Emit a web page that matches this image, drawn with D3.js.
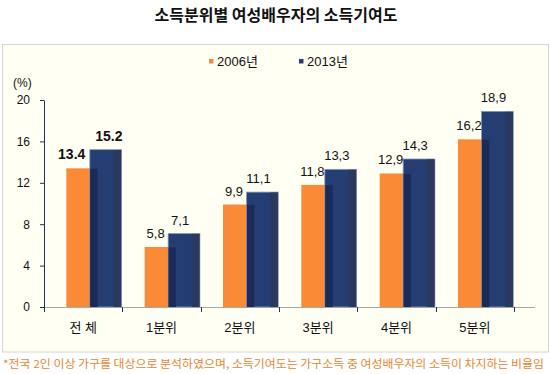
<!DOCTYPE html>
<html>
<head>
<meta charset="utf-8">
<script src="https://cdn.jsdelivr.net/npm/d3@7"></script>
<style>
  body { margin: 0; background: #ffffff; }
  svg { display: block; font-family: "Liberation Sans", "Noto Sans CJK KR", sans-serif; }
</style>
</head>
<body>
<svg id="chart" width="550" height="374"></svg>
<script>
// chart data
const categories = ['전 체', '1분위', '2분위', '3분위', '4분위', '5분위'];
const seriesNames = ['2006년', '2013년'];
const values2006 = [13.4, 5.8, 9.9, 11.8, 12.9, 16.2];
const values2013 = [15.2, 7.1, 11.1, 13.3, 14.3, 18.9];
const labels2006 = ['13.4', '5,8', '9,9', '11,8', '12,9', '16,2'];
const labels2013 = ['15.2', '7,1', '11,1', '13,3', '14,3', '18,9'];
const yTicks = [0, 4, 8, 12, 16, 20];

const titleText = '소득분위별 여성배우자의 소득기여도';
const noteText = '*전국 2인 이상 가구를 대상으로 분석하였으며, 소득기여도는 가구소득 중 여성배우자의 소득이 차지하는 비율임';

const colors = {
    orange: '#fb8a36',
    navy: '#243e74',
    navyOverlap: '#1b2b59',
    navyShade: '#2a395d',
    axis: '#1f3360',
    panel: '#fffff4'
};

const svg = d3.select('#chart');

// panel
svg.append('rect')
    .attr('x', 2.5).attr('y', 44.5)
    .attr('width', 546).attr('height', 307.5)
    .attr('fill', colors.panel)
    .attr('stroke', '#d4d4d4');

// title
svg.append('text')
    .attr('x', 276).attr('y', 21)
    .attr('text-anchor', 'middle')
    .attr('font-family', '"Noto Sans CJK KR", sans-serif')
    .attr('font-size', 16).attr('font-weight', 'bold')
    .attr('fill', '#111')
    .text(titleText);

const x = d3.scaleBand().domain(categories).range([44, 514]);
const y = d3.scaleLinear().domain([0, 20]).range([307, 100]);
const bw = x.bandwidth();

// y axis
const yAxis = svg.append('g')
    .attr('transform', 'translate(44,0)')
    .call(d3.axisLeft(y).tickValues(yTicks).tickSize(4).tickPadding(10).tickSizeOuter(0));
yAxis.attr('font-family', null);
yAxis.select('.domain').attr('stroke', colors.axis);
yAxis.selectAll('.tick line').attr('stroke', colors.axis);
yAxis.selectAll('text').attr('font-size', 12).attr('fill', '#111');

svg.append('text')
    .attr('x', 13).attr('y', 87)
    .attr('font-size', 12).attr('fill', '#111')
    .text('(%)');

// x axis line + tick marks at band edges
svg.append('line')
    .attr('x1', 44).attr('x2', 535)
    .attr('y1', y(0) + 0.5).attr('y2', y(0) + 0.5)
    .attr('stroke', '#a8a8a8');
const edges = categories.map((c) => x(c)).concat([x(categories[categories.length - 1]) + bw]);
svg.selectAll('.xtick')
    .data(edges)
    .enter()
    .append('line')
    .attr('x1', (d) => Math.round(d) + 0.5).attr('x2', (d) => Math.round(d) + 0.5)
    .attr('y1', y(0)).attr('y2', y(0) + 5)
    .attr('stroke', colors.axis);

svg.selectAll('.xlabel')
    .data(categories)
    .enter()
    .append('text')
    .attr('x', (d) => x(d) + bw / 2)
    .attr('y', 332)
    .attr('text-anchor', 'middle')
    .attr('font-size', 13).attr('fill', '#111')
    .style('white-space', 'pre')
    .text((d) => d);

// bars
const oOff = 0.285 * bw, oW = 0.395 * bw;
const bOff = 0.585 * bw, bW = 0.405 * bw;
const shadeW = 8;

const bars = svg.append('g');
categories.forEach((c, i) => {
    const x0 = x(c);
    bars.append('rect')
        .attr('x', x0 + oOff).attr('y', y(values2006[i]))
        .attr('width', oW).attr('height', y(0) - y(values2006[i]))
        .attr('fill', colors.orange);
    const bx = x0 + bOff, by = y(values2013[i]), bh = y(0) - by;
    bars.append('rect')
        .attr('x', bx).attr('y', by)
        .attr('width', bW).attr('height', bh)
        .attr('fill', colors.navy)
        .attr('stroke', '#8a98b8').attr('stroke-width', 0.8);
    // overlap with orange bar
    bars.append('rect')
        .attr('x', bx + 0.4).attr('y', Math.max(by, y(values2006[i])) + 0.4)
        .attr('width', x0 + oOff + oW - bx).attr('height', y(0) - Math.max(by, y(values2006[i])) - 0.4)
        .attr('fill', colors.navyOverlap);
    // right shade
    bars.append('rect')
        .attr('x', bx + bW - shadeW).attr('y', by + 0.4)
        .attr('width', shadeW - 0.4).attr('height', bh - 0.4)
        .attr('fill', colors.navyShade);
});

// value labels
categories.forEach((c, i) => {
    const x0 = x(c);
    const first = i === 0;
    svg.append('text')
        .attr('x', first ? x0 + oOff + 19 : x0 + oOff + 11)
        .attr('y', y(values2006[i]) - 9)
        .attr('text-anchor', first ? 'end' : 'middle')
        .attr('font-size', first ? 14 : 13)
        .attr('font-weight', first ? 'bold' : 'normal')
        .attr('fill', '#111')
        .text(labels2006[i]);
    svg.append('text')
        .attr('x', first ? x0 + bOff + 19 : x0 + bOff + 12)
        .attr('y', y(values2013[i]) - 9)
        .attr('text-anchor', 'middle')
        .attr('font-size', first ? 14 : 13)
        .attr('font-weight', first ? 'bold' : 'normal')
        .attr('fill', '#111')
        .text(labels2013[i]);
});

// legend
const legend = svg.append('g');
const legendX = [209, 299];
const legendColors = [colors.orange, colors.navy];
seriesNames.forEach((name, i) => {
    legend.append('rect')
        .attr('x', legendX[i]).attr('y', 59)
        .attr('width', 4.5).attr('height', 4.5)
        .attr('fill', legendColors[i]);
    legend.append('text')
        .attr('x', legendX[i] + 8).attr('y', 65.5)
        .attr('font-size', 13).attr('fill', '#111')
        .text(name);
});

// footnote
svg.append('text')
    .attr('x', 3).attr('y', 368)
    .attr('font-family', '"Noto Sans CJK KR", sans-serif')
    .attr('font-size', 11)
    .attr('fill', '#e5872f')
    .attr('textLength', 541)
    .attr('lengthAdjust', 'spacingAndGlyphs')
    .text(noteText);
</script>
</body>
</html>
